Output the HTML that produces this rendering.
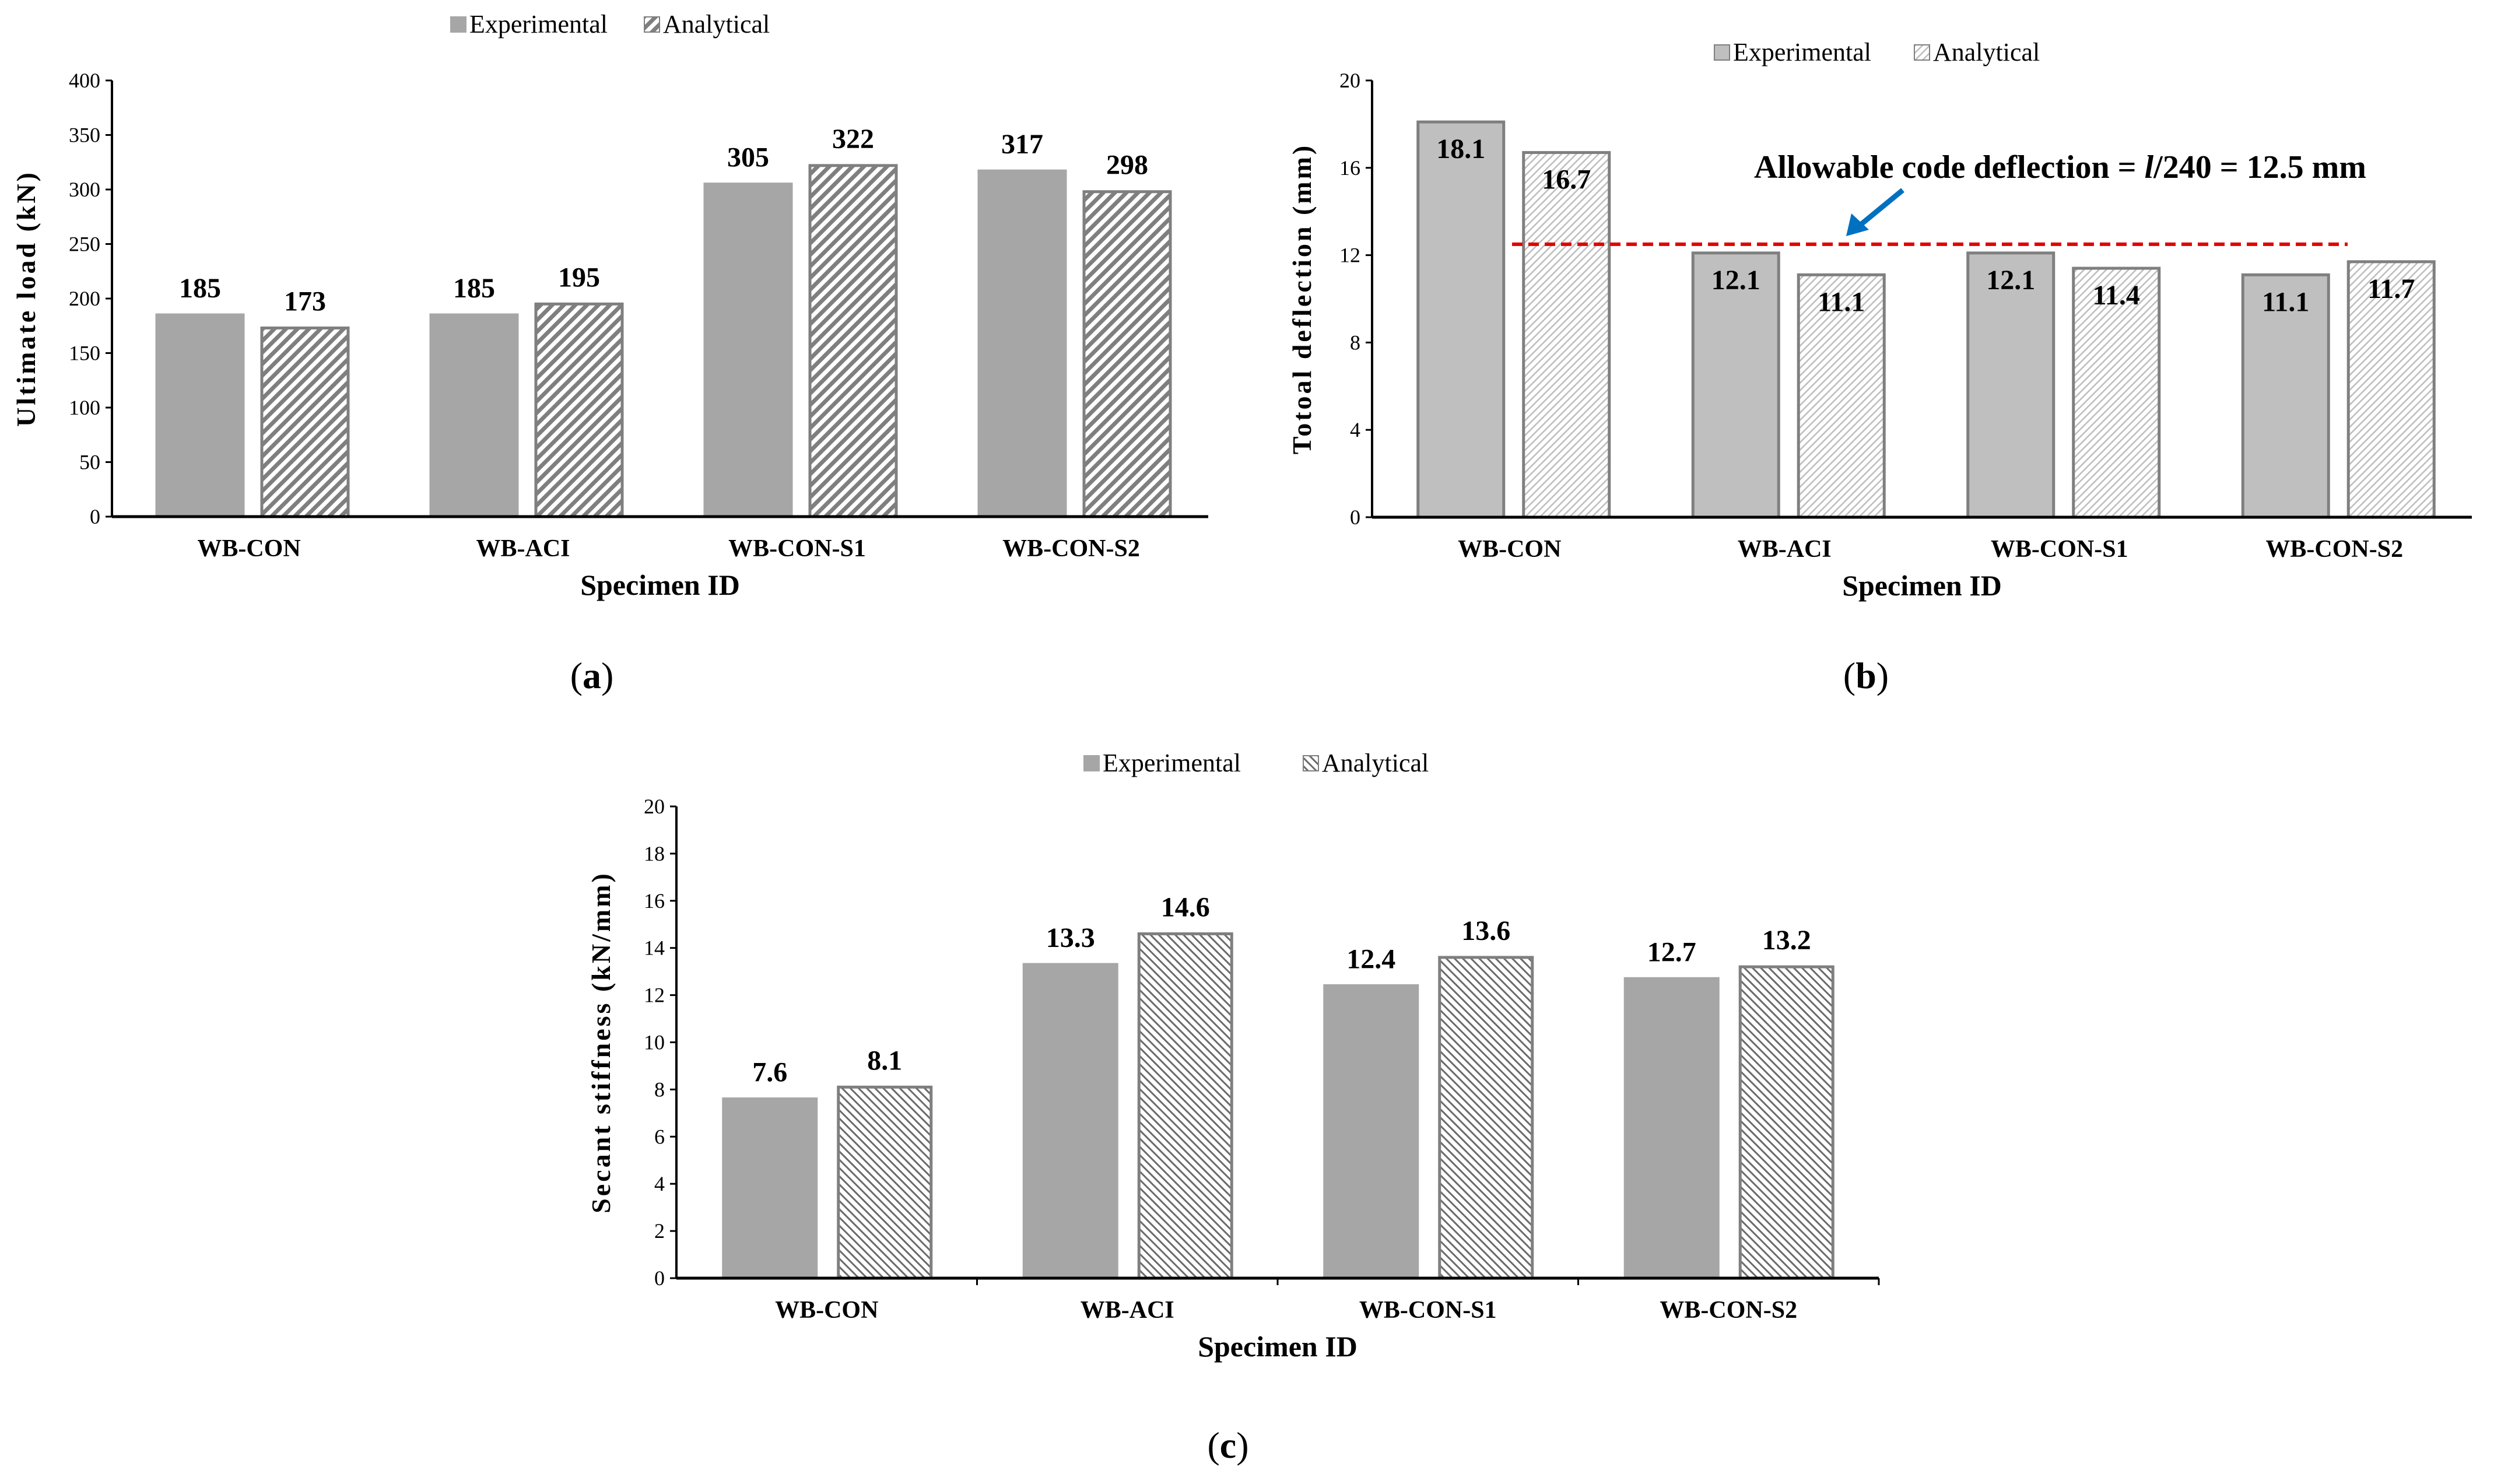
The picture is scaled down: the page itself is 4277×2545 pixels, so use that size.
<!DOCTYPE html>
<html><head><meta charset="utf-8">
<style>
html,body{margin:0;padding:0;background:#fff;}
svg{display:block;font-family:"Liberation Serif",serif;}
</style></head>
<body>
<svg id="fig" width="4277" height="2545" viewBox="0 0 4277 2545" xmlns="http://www.w3.org/2000/svg">
<defs>
<pattern id="hatchA" patternUnits="userSpaceOnUse" width="14" height="14" patternTransform="rotate(45)">
<rect width="14" height="14" fill="#fff"/><rect width="7" height="14" fill="#7f7f7f"/></pattern>
<pattern id="hatchB" patternUnits="userSpaceOnUse" width="9" height="9" patternTransform="rotate(45)">
<rect width="9" height="9" fill="#fff"/><rect width="2.5" height="9" fill="#bdbdbd"/></pattern>
<pattern id="hatchC" patternUnits="userSpaceOnUse" width="10" height="10" patternTransform="rotate(-45)">
<rect width="10" height="10" fill="#fff"/><rect width="3" height="10" fill="#6a6a6a"/></pattern>
</defs>
</svg>
<script>
const categories = ["WB-CON","WB-ACI","WB-CON-S1","WB-CON-S2"];
const loadExp = [185,185,305,317];
const loadAna = [173,195,322,298];
const loadTicks = [0,50,100,150,200,250,300,350,400];
const deflExp = [18.1,12.1,12.1,11.1];
const deflAna = [16.7,11.1,11.4,11.7];
const deflTicks = [0,4,8,12,16,20];
const deflAllowable = 12.5;
const stiffExp = [7.6,13.3,12.4,12.7];
const stiffAna = [8.1,14.6,13.6,13.2];
const stiffTicks = [0,2,4,6,8,10,12,14,16,18,20];

const NS="http://www.w3.org/2000/svg";
const svg=document.getElementById('fig');
function mk(tag,attrs,parent,text){
  const e=document.createElementNS(NS,tag);
  for(const k in attrs) e.setAttribute(k,attrs[k]);
  if(text!==undefined) e.textContent=text;
  (parent||svg).appendChild(e);
  return e;
}

function chart(o){
  const g=mk('g',{});
  
  
  const yMax=o.ticks[o.ticks.length-1];
  const yS=v=>o.y0-(v/yMax)*(o.y0-o.yTop);
  const gw=(o.xEnd-o.x0)/categories.length;
  const xC=i=>o.x0+gw*(i+0.5);
  o.ticks.forEach(t=>{
    const tk=mk('line',{x1:o.x0-11,x2:o.x0,y1:yS(t),y2:yS(t),stroke:'#000','stroke-width':3},g);
    
    
    const tl=mk('text',{x:o.x0-20,y:yS(t)+12,'text-anchor':'end','font-size':36,fill:'#000'},g,String(t));
    
    
  });
  categories.forEach((c,i)=>{
    const cx=xC(i);
    [[o.exp,o.expFill,o.expStroke,o.expOff,'experimental'],[o.ana,o.anaFill,o.anaStroke,o.anaOff,'analytical']].forEach(s=>{
      const v=s[0][i];
      const r=mk('rect',{x:cx+s[3],y:yS(v),width:o.bw,height:o.y0-yS(v),fill:s[1],stroke:s[2],'stroke-width':5},g);
      
      
      const ly=o.inside? yS(v)+62 : yS(v)-30;
      const lt=mk('text',{x:cx+s[3]+o.bw/2,y:ly,'text-anchor':'middle','font-size':48,'font-weight':'bold',fill:'#000'},g,o.fmt(v));
      
      
    });
    const cl=mk('text',{x:cx,y:o.y0+68,'text-anchor':'middle','font-size':42,'font-weight':'bold',fill:'#000'},g,c);
    
    
    if(o.xticks){
      const xt=mk('line',{x1:o.x0+gw*(i+1),x2:o.x0+gw*(i+1),y1:o.y0,y2:o.y0+12,stroke:'#000','stroke-width':3},g);
      
      
    }
  });
  const ya=mk('line',{x1:o.x0,x2:o.x0,y1:o.yTop,y2:o.y0,stroke:'#000','stroke-width':4},g);
  
  
  const xa=mk('line',{x1:o.x0,x2:o.xEnd,y1:o.y0,y2:o.y0,stroke:'#000','stroke-width':5},g);
  
  
  const yt=mk('text',{x:0,y:0,'text-anchor':'middle','font-size':46,'font-weight':'bold','letter-spacing':4,fill:'#000',transform:`translate(${o.ytX},${(o.yTop+o.y0)/2}) rotate(-90)`},g,o.yTitle);
  
  
  const xt=mk('text',{x:(o.x0+o.xEnd)/2,y:o.y0+134,'text-anchor':'middle','font-size':50,'font-weight':'bold',fill:'#000'},g,'Specimen ID');
  
  
  const lg=mk('g',{},g);
  
  
  mk('rect',{x:o.legX,y:o.legY-15,width:26,height:26,fill:o.expFill,stroke:o.expStroke,'stroke-width':2},lg);
  const l1=mk('text',{x:o.legX+32,y:o.legY+12,'font-size':44,fill:'#000'},lg,'Experimental');
  
  
  mk('rect',{x:o.legX2,y:o.legY-15,width:26,height:26,fill:o.anaFill,stroke:o.anaStroke,'stroke-width':2},lg);
  const l2=mk('text',{x:o.legX2+32,y:o.legY+12,'font-size':44,fill:'#000'},lg,'Analytical');
  
  
  const cp=mk('text',{x:o.capX,y:o.capY,'text-anchor':'middle','font-size':64,fill:'#000'},g);
  
  
  mk('tspan',{},cp,'(');
  mk('tspan',{'font-weight':'bold'},cp,o.cap);
  mk('tspan',{},cp,')');
  return {yS,g};
}

chart({name:'chart-ultimate-load',x0:192,yTop:138,y0:886,xEnd:2072,ticks:loadTicks,exp:loadExp,ana:loadAna,
  expFill:'#a6a6a6',expStroke:'#a6a6a6',anaFill:'url(#hatchA)',anaStroke:'#7f7f7f',bw:148,expOff:-158,anaOff:22,
  fmt:v=>String(v),inside:false,yTitle:'Ultimate load (kN)',ytX:60,legX:773,legX2:1105,legY:44,capX:1015,capY:1180,cap:'a'});

const b=chart({name:'chart-total-deflection',x0:2353,yTop:138,y0:887,xEnd:4239,ticks:deflTicks,exp:deflExp,ana:deflAna,
  expFill:'#bfbfbf',expStroke:'#7f7f7f',anaFill:'url(#hatchB)',anaStroke:'#7f7f7f',bw:147,expOff:-157,anaOff:24,
  fmt:v=>v.toFixed(1),inside:true,yTitle:'Totoal deflection (mm)',ytX:2248,legX:2940,legX2:3283,legY:92,capX:3200,capY:1180,cap:'b'});

const dl=mk('line',{x1:2593,x2:4026,y1:b.yS(deflAllowable),y2:b.yS(deflAllowable),stroke:'#e00000','stroke-width':6,'stroke-dasharray':'18,10'});


const ar=mk('line',{x1:3263,x2:3190,y1:326,y2:386,stroke:'#0070c0','stroke-width':9});


const ah=mk('polygon',{points:'3166,405 3175,366 3205,394',fill:'#0070c0'});


const an=mk('text',{x:3008,y:305,'font-size':56,'font-weight':'bold',fill:'#000'});


mk('tspan',{},an,'Allowable code deflection = ');
mk('tspan',{'font-style':'italic'},an,'l');
mk('tspan',{},an,'/240 = 12.5 mm');

chart({name:'chart-secant-stiffness',x0:1160,yTop:1383,y0:2192,xEnd:3222,ticks:stiffTicks,exp:stiffExp,ana:stiffAna,
  expFill:'#a6a6a6',expStroke:'#a6a6a6',anaFill:'url(#hatchC)',anaStroke:'#7f7f7f',bw:159,expOff:-177,anaOff:20,
  fmt:v=>v.toFixed(1),inside:false,yTitle:'Secant stiffness (kN/mm)',ytX:1046,legX:1859,legX2:2235,legY:1311,capX:2106,capY:2500,cap:'c',xticks:true});
</script>
</body></html>
